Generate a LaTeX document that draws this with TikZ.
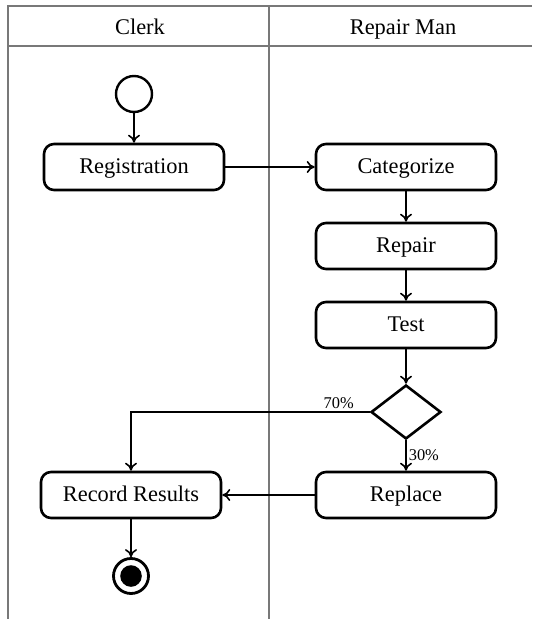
\documentclass[tikz,border=0pt]{standalone}
\usepackage{fontspec}
\setmainfont{Liberation Serif}
\RequirePackage{xcolor}
\definecolor{lanegray}{RGB}{120,120,120}
\tikzset{every picture/.style={/utils/exec={\rmfamily}}}
\usetikzlibrary{positioning}
\usetikzlibrary{shapes.geometric}
\usetikzlibrary{arrows.meta}
\tikzset{
  activity/.style={draw, line width=1.3pt, rounded corners=5pt,
    minimum width=90pt, minimum height=23pt, inner sep=0pt,
    text height=0.66em, text depth=0pt,
    font=\fontsize{11.2}{13}\selectfont},
  lanetitle/.style={font=\fontsize{11.2}{13}\selectfont, inner sep=0pt,
    text height=0.66em, text depth=0pt},
  lane/.style={draw=lanegray, line width=1pt},
  flow/.style={-{To[length=4pt,width=6pt]}, line width=0.8pt},
  pct/.style={font=\fontsize{8.2}{10}\selectfont, inner sep=1pt}
}

\begin{document}
\begin{tikzpicture}[x=0.5pt, y=-0.5pt]
  \useasboundingbox (0,0) rectangle (532,619);

  % swimlanes
  \draw [lane] (8,619) -- (8,6) -- (532,6);
  \draw [lane] (8,46) -- (532,46);
  \draw [lane] (269,6) -- (269,619);
  \node [lanetitle] (clerk) at (140,27.5) {Clerk};
  \node [lanetitle] (repairman) at (403,27.5) {Repair Man};

  % nodes
  \node [circle, draw, line width=1.2pt, minimum size=18pt, inner sep=0pt] (start) at (134,94) {};
  \node [activity] (registration) at (134,167) {Registration};
  \node [activity] (categorize) at (406,167) {Categorize};
  \node [activity] (repair) at (406,246) {Repair};
  \node [activity] (test) at (406,325) {Test};
  \node [diamond, draw, line width=1.3pt, minimum width=35pt, minimum height=27pt,
    aspect=1.3, inner sep=0pt] (decision) at (406,412) {};
  \node [activity] (replace) at (406,495) {Replace};
  \node [activity] (record) at (131,495) {Record Results};
  \node [circle, draw, line width=1.4pt, minimum size=17.5pt, inner sep=0pt,
    path picture={\fill (path picture bounding box.center) circle (5.4pt);}] (end) at (131,576) {};

  % flows
  \draw [flow] (start) -- (registration);
  \draw [flow] (registration) -- (categorize);
  \draw [flow] (categorize) -- (repair);
  \draw [flow] (repair) -- (test);
  \draw [flow] (test) -- (decision);
  \draw [flow] (decision.west) -| node [pct, pos=0.065, above] {70\%} (record.north);
  \draw [flow] (decision.south) -- node [pct, right] {30\%} (replace);
  \draw [flow] (replace) -- (record);
  \draw [flow] (record) -- (end);
\end{tikzpicture}
\end{document}
